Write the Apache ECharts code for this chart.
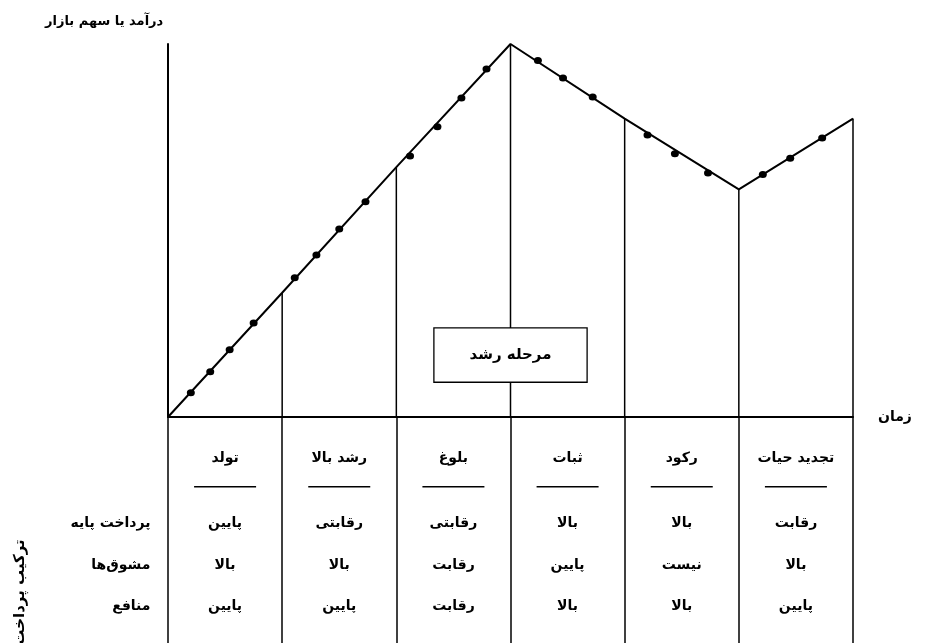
<!DOCTYPE html>
<html>
<head>
<meta charset="utf-8">
<script src="https://cdn.jsdelivr.net/npm/echarts@6/dist/echarts.min.js"></script>
<style>
  html, body { margin: 0; padding: 0; background: #fff; }
  #chart { width: 932px; height: 643px; }
</style>
</head>
<body>
<div id="chart"></div>
<script>
// stage boundaries 0..6 and the revenue curve at each boundary
const curveX = [0, 1, 2, 3, 4, 5, 6];
const curveY = [0, 33.3, 67, 100, 80, 61, 80];

// dots drawn along the curve
const dotX = [0.2, 0.37, 0.54, 0.75, 1.11, 1.3, 1.5, 1.73, 2.12, 2.36, 2.57, 2.79,
              3.24, 3.46, 3.72, 4.2, 4.44, 4.73, 5.21, 5.45, 5.73];
const dotY = [6.5, 12.1, 18, 25.2, 37.3, 43.4, 50.4, 57.7, 70, 77.8, 85.5, 93.3,
              95.6, 90.9, 85.8, 75.6, 70.6, 65.4, 65, 69.4, 74.8];

const stages = ['تولد', 'رشد بالا', 'بلوغ', 'ثبات', 'رکود', 'تجدید حیات'];
const rowNames = ['پرداخت پایه', 'مشوق‌ها', 'منافع'];
const basePay = ['پایین', 'رقابتی', 'رقابتی', 'بالا', 'بالا', 'رقابت'];
const incentives = ['بالا', 'بالا', 'رقابت', 'پایین', 'نیست', 'بالا'];
const benefits = ['پایین', 'پایین', 'رقابت', 'بالا', 'بالا', 'پایین'];
const rows = [basePay, incentives, benefits];

const yTitle = 'درآمد یا سهم بازار';
const xTitle = 'زمان';
const sideTitle = 'ترکیب پرداخت';
const boxText = 'مرحله رشد';
const boxAt = [3, 16.6];

// row levels inside the table grid (inverse axis, 0 = top)
const headerLevel = 1.0;
const ruleLevel = 1.7;
const rowLevels = [2.6, 3.6, 4.6];

const FONT = 'DejaVu Sans';
const chart = echarts.init(document.getElementById('chart'));

const cellData = [];
rows.forEach((r, i) => r.forEach((t, c) => cellData.push({ value: [c + 0.5, rowLevels[i]], name: t })));

const textLabel = (extra) => Object.assign({
  show: true, position: 'inside', formatter: '{b}',
  fontFamily: FONT, fontSize: 14, fontWeight: 'bold', color: '#000'
}, extra || {});
const hidden = { color: 'rgba(0,0,0,0)', opacity: 1 };

chart.setOption({
  animation: false,
  backgroundColor: '#fff',
  title: {
    text: yTitle, left: 40, top: 10,
    textStyle: { fontFamily: FONT, fontSize: 13, fontWeight: 'bold', color: '#000' }
  },
  graphic: [{
    type: 'text', x: 20, y: 592, rotation: Math.PI / 2,
    style: {
      text: sideTitle, fontFamily: FONT, fontSize: 15, fontWeight: 'bold',
      fill: '#000', align: 'center', verticalAlign: 'middle'
    }
  }],
  grid: [
    { left: 168, right: 79, top: 44, bottom: 226 },
    { left: 168, right: 79, top: 417, bottom: 0 }
  ],
  xAxis: [
    {
      type: 'value', gridIndex: 0, min: 0, max: 6, interval: 1,
      name: xTitle, nameLocation: 'end', nameGap: 25,
      nameTextStyle: { fontFamily: FONT, fontSize: 14, fontWeight: 'bold', color: '#000', padding: [0, 0, 12, 0] },
      axisLine: { lineStyle: { color: '#000', width: 2 } },
      axisTick: { show: false }, axisLabel: { show: false }, splitLine: { show: false }
    },
    {
      type: 'value', gridIndex: 1, min: 0, max: 6, interval: 1,
      axisLine: { show: false }, axisTick: { show: false }, axisLabel: { show: false },
      splitLine: { show: true, lineStyle: { color: '#000', width: 1.5 } }
    }
  ],
  yAxis: [
    {
      type: 'value', gridIndex: 0, min: 0, max: 100,
      axisLine: { show: true, lineStyle: { color: '#000', width: 2 } },
      axisTick: { show: false }, axisLabel: { show: false }, splitLine: { show: false }
    },
    {
      type: 'value', gridIndex: 1, min: 0, max: 5.5, inverse: true, show: false
    }
  ],
  series: [
    {
      type: 'bar', xAxisIndex: 0, yAxisIndex: 0, barWidth: 1.5,
      itemStyle: { color: '#000' },
      data: curveX.slice(1).map((x, i) => [x, curveY[i + 1]]),
      z: 2
    },
    {
      type: 'line', xAxisIndex: 0, yAxisIndex: 0, symbol: 'none',
      lineStyle: { color: '#000', width: 2 },
      data: curveX.map((x, i) => [x, curveY[i]]),
      z: 3
    },
    {
      type: 'scatter', xAxisIndex: 0, yAxisIndex: 0, symbol: 'circle', symbolSize: [8, 7],
      itemStyle: { color: '#000', opacity: 1 },
      data: dotX.map((x, i) => [x, dotY[i]]),
      z: 4
    },
    {
      type: 'scatter', xAxisIndex: 0, yAxisIndex: 0, symbolSize: 1,
      itemStyle: hidden,
      data: [{ value: boxAt, name: boxText }],
      label: textLabel({
        fontSize: 15,
        backgroundColor: '#fff', borderColor: '#000', borderWidth: 1.3,
        padding: [19, 35]
      }),
      z: 10
    },
    {
      type: 'scatter', xAxisIndex: 1, yAxisIndex: 1, symbolSize: 1,
      itemStyle: hidden,
      data: stages.map((s, c) => ({ value: [c + 0.5, headerLevel], name: s })),
      label: textLabel()
    },
    {
      type: 'scatter', xAxisIndex: 1, yAxisIndex: 1, symbol: 'rect', symbolSize: [62, 1.5],
      itemStyle: { color: '#000', opacity: 1 },
      data: stages.map((s, c) => [c + 0.5, ruleLevel])
    },
    {
      type: 'scatter', xAxisIndex: 1, yAxisIndex: 1, symbolSize: 1,
      itemStyle: hidden,
      data: cellData,
      label: textLabel()
    },
    {
      type: 'scatter', xAxisIndex: 1, yAxisIndex: 1, symbolSize: 1, clip: false,
      itemStyle: hidden,
      data: rowNames.map((n, i) => ({ value: [0, rowLevels[i]], name: n })),
      label: textLabel({ position: 'left', distance: 17 })
    }
  ]
});
</script>
</body>
</html>
